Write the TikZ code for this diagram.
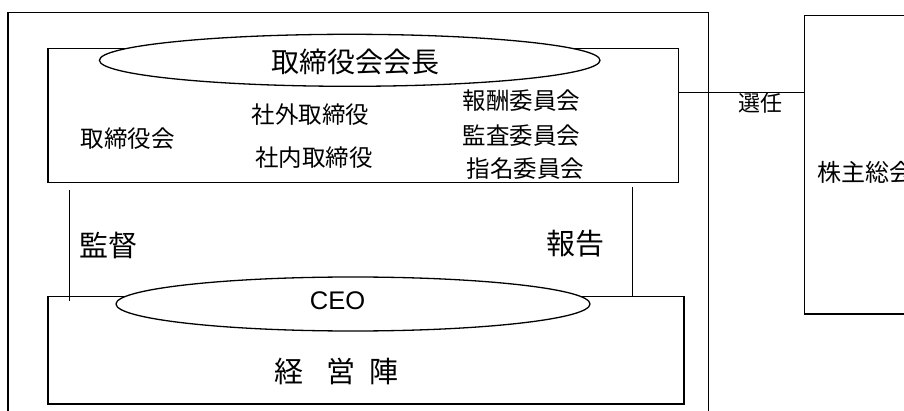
\documentclass[tikz,border=0pt]{standalone}
\usepackage{fontspec}
\setmainfont{Liberation Sans}
\newfontfamily\jp{Noto Sans CJK JP}
\usetikzlibrary{shapes.geometric}
\begin{document}
\begin{tikzpicture}[x=1pt,y=-1pt,line width=1.3pt,
  box/.style={draw,rectangle,inner sep=0pt},
  oval/.style={draw,ellipse,fill=white,inner sep=0pt},
  jt/.style={font=\jp\fontsize{#1}{#1}\selectfont,inner sep=0pt}]
\useasboundingbox (0,0) rectangle (904,411);
% outer frame (company)
\draw (8,12.7) rectangle (708.3,430);
% board box
\node[box,minimum width=630.3pt,minimum height=134pt] (board) at (363.15,115.3) {};
\node[oval,minimum width=500.6pt,minimum height=52pt] (chair) at (349.7,60.3) {};
\node[jt=28] (chairtxt) at (355.3,61.7) {取締役会会長};
\node[jt=23.5] (bd) at (127.5,139) {取締役会};
\node[jt=23.5] (out) at (310.5,115) {社外取締役};
\node[jt=23.5] (in) at (314,158) {社内取締役};
\node[jt=23.5] (c1) at (521.3,100.5) {報酬委員会};
\node[jt=23.5] (c2) at (521.3,135.5) {監査委員会};
\node[jt=23.5] (c3) at (525.7,169) {指名委員会};
% management box
\node[box,minimum width=636pt,minimum height=107.7pt] (mgmt) at (366,350.15) {};
\node[oval,minimum width=474pt,minimum height=54pt] (ceo) at (353,304) {};
\node[inner sep=0pt,font=\fontsize{25.5}{25.5}\selectfont] (ceotxt) at (337.5,300.7) {CEO};
\node[jt=29] (mgtxt) at (336.7,371.3) {経\hspace{23pt}営\hspace{14pt}陣};
% supervise / report lines
\coordinate (s1) at (69.3,190);
\coordinate (s2) at (69.3,300.7);
\coordinate (r1) at (632.3,186.7);
\coordinate (r2) at (632.3,296.3);
\draw (s1) -- (s2);
\draw (r1) -- (r2);
\node[jt=29] (sup) at (108.8,245) {監督};
\node[jt=29] (rep) at (575,243.3) {報告};
% shareholders
\node[box,minimum width=160pt,minimum height=298.6pt,anchor=north west] (share) at (804,14.7) {};
\node[jt=24,anchor=west] (sharetxt) at (816.5,172.7) {株主総会};
\draw (board.east |- 0,92.7) -- (share.west |- 0,92.7);
\node[jt=22] (sel) at (760.5,103) {選任};
\end{tikzpicture}
\end{document}
